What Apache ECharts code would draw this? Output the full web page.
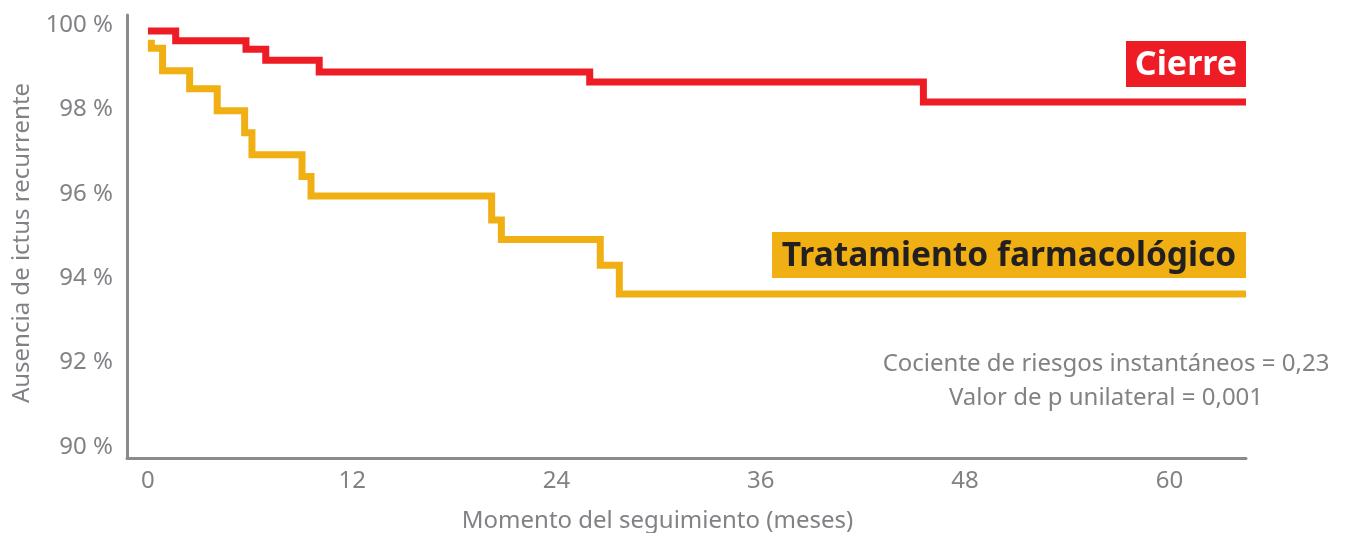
<!DOCTYPE html>
<html><head><meta charset="utf-8">
<script src="https://cdn.jsdelivr.net/npm/echarts@6/dist/echarts.min.js"></script>
<style>html,body{margin:0;padding:0;background:#fff}#c{width:1349px;height:533px}</style>
</head><body><div id="c"></div>
<script>
const xTicks = [0, 12, 24, 36, 48, 60];
const yTicks = [90, 92, 94, 96, 98, 100];
const cierreTimes = [0, 1.63, 5.76, 6.92, 10.06, 25.95, 45.55, 64.5];
const cierreValues = [99.86, 99.63, 99.43, 99.17, 98.89, 98.65, 98.18, 98.18];
const farmaTimes = [0, 0.2, 0.86, 2.45, 4.07, 5.68, 6.11, 9.05, 9.58, 20.19, 20.76, 26.57, 27.69, 64.5];
const farmaValues = [99.57, 99.45, 98.92, 98.49, 97.97, 97.45, 96.93, 96.41, 95.95, 95.38, 94.92, 94.31, 93.63, 93.63];
const seriesNames = ['Cierre', 'Tratamiento farmacológico'];
const annotation = ['Cociente de riesgos instantáneos = 0,23', 'Valor de p unilateral = 0,001'];
const xName = 'Momento del seguimiento (meses)';
const yName = 'Ausencia de ictus recurrente';

const RED = '#EE1C25', YEL = '#F0B014', GREY = '#808285', AXIS = '#8A8B8E';
const FONT = 'Noto Sans';

const chart = echarts.init(document.getElementById('c'), null, {renderer: 'canvas'});
const option = {
  animation: false,
  backgroundColor: '#fff',
  grid: {left: 127, right: 103, top: 15, bottom: 75, containLabel: false, outerBoundsMode: 'none'},
  xAxis: {
    type: 'value', min: -1.23, max: 64.5,
    name: xName, nameLocation: 'middle', nameGap: 51,
    nameTextStyle: {color: GREY, fontSize: 24, fontFamily: FONT, padding: [0, 58, 0, 0]},
    axisLine: {show: true, onZero: false, lineStyle: {color: AXIS, width: 3}},
    axisTick: {show: false},
    splitLine: {show: false},
    axisLabel: {customValues: xTicks, color: GREY, fontSize: 24, fontFamily: FONT, margin: 11}
  },
  yAxis: {
    type: 'value', min: 89.74, max: 100.24,
    name: yName, nameLocation: 'middle', nameGap: 93,
    nameTextStyle: {color: GREY, fontSize: 24, fontFamily: FONT, padding: [0, 13, 0, 0]},
    axisLine: {show: true, onZero: false, lineStyle: {color: AXIS, width: 3}},
    axisTick: {show: false},
    splitLine: {show: false},
    axisLabel: {customValues: yTicks, color: GREY, fontSize: 24, fontFamily: FONT, margin: 14,
      formatter: v => v + ' %'}
  },
  series: [
    {
      name: seriesNames[1], type: 'line', step: 'end', showSymbol: false, z: 2,
      lineStyle: {color: YEL, width: 7, cap: 'butt', join: 'miter'},
      data: farmaTimes.map((t, i) => [t, farmaValues[i]])
    },
    {
      name: seriesNames[0], type: 'line', step: 'end', showSymbol: false, z: 3,
      lineStyle: {color: RED, width: 7, cap: 'butt', join: 'miter'},
      data: cierreTimes.map((t, i) => [t, cierreValues[i]])
    }
  ],
  graphic: [
    {type: 'rect', shape: {x: 1126, y: 41, width: 120, height: 46}, style: {fill: RED}, z: 10},
    {type: 'text', x: 1186, y: 65, z: 11, style: {text: seriesNames[0], fill: '#fff',
      font: 'bold 34px "' + FONT + '"', textAlign: 'center', textVerticalAlign: 'middle'}},
    {type: 'rect', shape: {x: 772, y: 232, width: 474, height: 46}, style: {fill: YEL}, z: 10},
    {type: 'text', x: 1009, y: 256, z: 11, style: {text: seriesNames[1], fill: '#231F20',
      font: 'bold 33.5px "' + FONT + '"', textAlign: 'center', textVerticalAlign: 'middle'}},
    {type: 'text', x: 1106, y: 364, z: 11, style: {text: annotation[0], fill: GREY,
      font: '24px "' + FONT + '"', textAlign: 'center', textVerticalAlign: 'middle'}},
    {type: 'text', x: 1106, y: 398, z: 11, style: {text: annotation[1], fill: GREY,
      font: '24px "' + FONT + '"', textAlign: 'center', textVerticalAlign: 'middle'}}
  ]
};
chart.setOption(option);
</script></body></html>
